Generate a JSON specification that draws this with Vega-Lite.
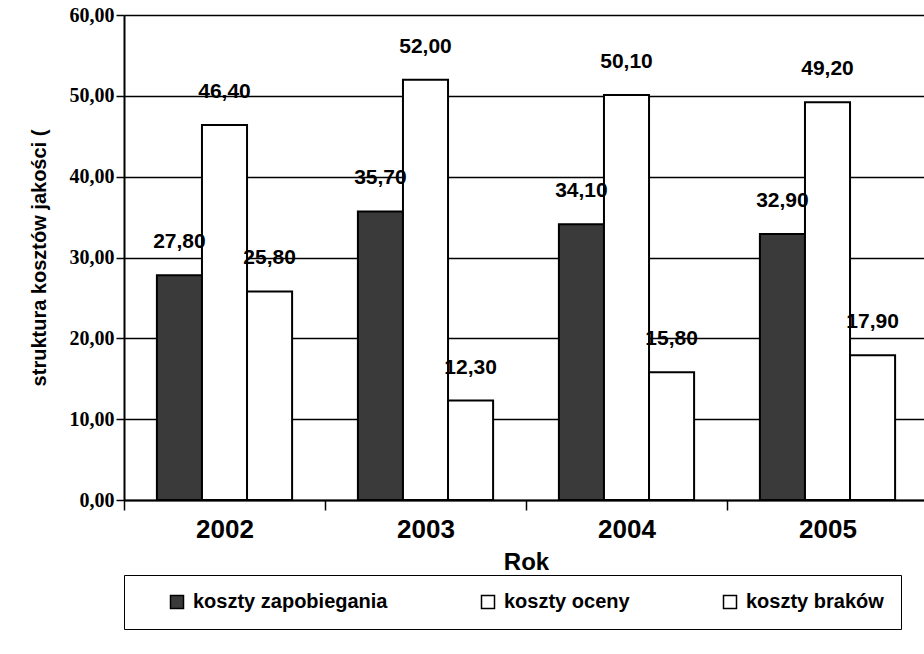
{
  "$schema": "https://vega.github.io/schema/vega-lite/v6.json",
  "width": 804,
  "height": 485,
  "autosize": {"type": "none"},
  "padding": {"left": 124, "top": 15, "right": 0, "bottom": 154},
  "background": "white",
  "config": {
    "locale": {"number": {"decimal": ",", "thousands": " ", "grouping": [3], "currency": ["", " zł"]}},
    "view": {"stroke": null},
    "font": "Liberation Sans"
  },
  "data": {
    "values": [
      {"rok": "2002", "kategoria": "koszty zapobiegania", "wartosc": 27.8},
      {"rok": "2002", "kategoria": "koszty oceny", "wartosc": 46.4},
      {"rok": "2002", "kategoria": "koszty braków", "wartosc": 25.8},
      {"rok": "2003", "kategoria": "koszty zapobiegania", "wartosc": 35.7},
      {"rok": "2003", "kategoria": "koszty oceny", "wartosc": 52.0},
      {"rok": "2003", "kategoria": "koszty braków", "wartosc": 12.3},
      {"rok": "2004", "kategoria": "koszty zapobiegania", "wartosc": 34.1},
      {"rok": "2004", "kategoria": "koszty oceny", "wartosc": 50.1},
      {"rok": "2004", "kategoria": "koszty braków", "wartosc": 15.8},
      {"rok": "2005", "kategoria": "koszty zapobiegania", "wartosc": 32.9},
      {"rok": "2005", "kategoria": "koszty oceny", "wartosc": 49.2},
      {"rok": "2005", "kategoria": "koszty braków", "wartosc": 17.9}
    ]
  },
  "encoding": {
    "x": {
      "field": "rok",
      "type": "nominal",
      "scale": {"paddingInner": 0, "paddingOuter": 0},
      "axis": {
        "title": "Rok",
        "labelAngle": 0,
        "tickBand": "extent",
        "tickSize": 10,
        "tickColor": "black",
        "tickWidth": 1.5,
        "domainColor": "black",
        "domainWidth": 2,
        "labelFont": "Liberation Sans",
        "labelFontSize": 26,
        "labelFontWeight": "bold",
        "labelColor": "black",
        "labelPadding": 6,
        "titleFont": "Liberation Sans",
        "titleFontSize": 24,
        "titleFontWeight": "bold",
        "titleColor": "black",
        "titlePadding": 8,
        "grid": false
      }
    },
    "xOffset": {
      "field": "kategoria",
      "type": "nominal",
      "sort": ["koszty zapobiegania", "koszty oceny", "koszty braków"],
      "scale": {"paddingInner": 0, "paddingOuter": 0.73}
    },
    "y": {
      "field": "wartosc",
      "type": "quantitative",
      "scale": {"domain": [0, 60], "nice": false},
      "axis": {
        "title": "struktura kosztów jakości (",
        "values": [0, 10, 20, 30, 40, 50, 60],
        "format": ".2f",
        "labelFont": "Liberation Serif",
        "labelFontWeight": "bold",
        "labelFontSize": 20,
        "labelColor": "black",
        "labelPadding": 2,
        "tickColor": "black",
        "tickSize": 8,
        "tickWidth": 1.5,
        "domainColor": "black",
        "domainWidth": 2,
        "gridColor": "black",
        "gridWidth": 1.5,
        "gridOpacity": 1,
        "titleFont": "Liberation Sans",
        "titleFontSize": 20,
        "titleFontWeight": "bold",
        "titleColor": "black",
        "titlePadding": 20
      }
    }
  },
  "layer": [
    {
      "mark": {"type": "bar", "stroke": "black", "strokeWidth": 2},
      "encoding": {
        "color": {
          "field": "kategoria",
          "type": "nominal",
          "scale": {
            "domain": ["koszty zapobiegania", "koszty oceny", "koszty braków"],
            "range": ["#3a3a3a", "white", "white"]
          },
          "legend": {
            "orient": "none",
            "legendX": 0,
            "legendY": 560,
            "direction": "horizontal",
            "title": null,
            "strokeColor": "black",
            "fillColor": "white",
            "padding": 17,
            "symbolType": "square",
            "symbolSize": 169,
            "symbolStrokeColor": "black",
            "symbolStrokeWidth": 1.5,
            "symbolOpacity": 1,
            "labelFont": "Liberation Sans",
            "labelFontSize": 20,
            "labelFontWeight": "bold",
            "labelColor": "black",
            "labelLimit": 0,
            "labelOffset": 6,
            "symbolOffset": 26,
            "columnPadding": 64
          }
        }
      }
    },
    {
      "mark": {
        "type": "text",
        "fontSize": 21,
        "fontWeight": "bold",
        "font": "Liberation Sans",
        "baseline": "middle",
        "dy": -33,
        "color": "black"
      },
      "encoding": {
        "text": {"field": "wartosc", "type": "quantitative", "format": ".2f"}
      }
    }
  ]
}
